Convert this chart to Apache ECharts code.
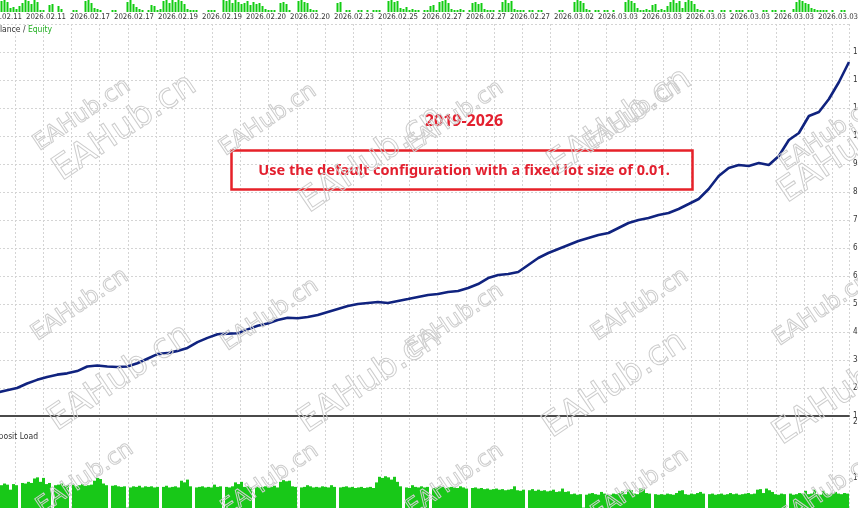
<!DOCTYPE html>
<html><head><meta charset="utf-8">
<script src="https://cdn.jsdelivr.net/npm/echarts@6/dist/echarts.min.js"></script>
<style>html,body{margin:0;padding:0;background:#fff;overflow:hidden}#c{width:858px;height:508px}</style>
</head><body><div id="c"></div>
<script>
// ---- data ----
const dateLabels = ['2026.02.11','2026.02.11','2026.02.17','2026.02.17','2026.02.19','2026.02.19','2026.02.20','2026.02.20','2026.02.23','2026.02.25','2026.02.27','2026.02.27','2026.02.27','2026.03.02','2026.03.03','2026.03.03','2026.03.03','2026.03.03','2026.03.03','2026.03.03'];

const balance = [2330,2440,2510,2580,2720,2830,2920,2990,3030,3100,
 3240,3270,3240,3225,3240,3340,3480,3620,3650,3720,
 3810,3990,4120,4230,4250,4260,4380,4490,4560,4670,
 4740,4720,4761,4822,4914,5006,5098,5160,5191,5221,
 5191,5252,5313,5375,5436,5467,5528,5559,5651,5774,
 5958,6051,6081,6143,6358,6573,6726,6849,6972,7095,
 7187,7279,7341,7494,7648,7740,7801,7894,7955,8078,
 8231,8385,8692,9091,9337,9429,9398,9491,9429,9706,
 10197,10412,10934,11057,11456,11978,12592];

const tradeBars = [11,12,10, 4,5,3,6, 9,12,11,8,12,10, 2,2,0, 7,8,0,6,3, 0,0,0, 2,2,0, 0,11,
 12,9,4,3,2, 0,0,0, 2,2, 0,0,0,10, 12,8,5,3, 2,0,2,7,6,2,3, 11,12,9,12,10,12,11,8,3,
 2,2,2,0, 0,0,2, 2,2,0,0, 12,11,12,9,12,10, 8,9,11,7,10,8,9,6,3, 2,2,2,0, 9,10,8,2,0,
 0,11,12,10,9,3,2,2,0, 0,0,0,0,0, 9,10,0, 2,2,0,0, 2,2,0, 2,0,2,2,2, 0,0,
 11,12,10,11,4, 3,5,2,3,2,2, 0,2,2, 6,7,2,10,11, 12,9,3, 2,2,3,2,0,2, 9,10,8,9,3,
 2,2,2,0,2, 10,12,9,11,3,2,2, 2,0,2,2,0,2,2,0, 0,0,0,0,2, 2,0,0,0, 10,12,11,9,3,2,
 0,2,2,0, 2,2,0,2,0,0, 0,10,12,11,9,4,2, 2,3,2,7,8,2,3,2,6, 10,12,9,11,4,10,12,11,8,3,
 2,2,0,2, 2,0,0, 2,2,0,2,0, 2,2,2,0,2,2,0,0, 0,2,2,0, 2,2,0,2,2,0,0, 3,10,12,11,9,8,4,3,
 2,2,2,2,0, 2,0,0,2,2,0,0,0,0];

const depositLoad = [8.0,8.3,8.1,7.2,8.2,8.0,3.0,8.4,8.3,8.6,
 8.4,9.2,9.4,8.6,9.3,8.2,8.4,3.5,8.0,8.1,
 8.3,7.9,8.0,3.2,8.1,7.8,8.0,8.2,7.9,8.0,
 8.1,8.8,9.3,9.1,8.3,8.0,2.8,7.9,8.0,7.8,
 7.7,7.8,4.0,7.6,7.8,7.7,7.9,7.6,7.8,7.7,
 7.8,7.6,7.7,3.3,7.7,7.9,7.6,7.7,7.8,7.6,
 8.8,8.5,9.0,7.8,3.0,7.6,7.7,7.8,7.6,7.7,
 7.6,8.1,7.7,7.8,3.6,7.7,7.6,7.8,8.5,8.2,
 8.6,7.7,7.8,7.6,2.9,7.7,7.6,7.7,7.8,7.6,
 7.7,7.9,7.6,8.6,8.9,8.7,8.8,7.8,7.7,3.1,
 7.6,7.7,8.0,7.8,7.6,7.7,7.6,7.8,7.7,7.6,
 8.0,7.7,3.4,7.6,7.7,7.8,7.6,7.7,7.5,7.6,
 7.7,7.5,7.6,7.7,7.5,8.5,9.5,9.3,9.6,9.4,
 9.0,9.5,8.6,7.8,3.0,7.6,7.5,8.0,7.7,7.6,
 7.8,7.6,7.7,3.5,7.5,7.6,7.8,7.7,7.5,7.6,
 7.7,7.6,7.5,7.8,7.6,7.4,3.2,7.5,7.6,7.4,
 7.5,7.3,7.4,7.2,7.3,7.4,7.2,7.3,7.1,7.2,
 7.3,7.8,7.1,7.0,7.2,3.0,7.1,7.3,7.0,7.2,
 7.0,7.1,6.9,7.0,7.2,6.8,6.9,7.4,6.8,6.9,
 6.4,6.5,6.3,6.4,4.0,6.3,6.5,6.6,6.4,6.3,
 6.8,6.5,6.4,6.3,6.5,6.4,6.6,6.9,6.4,7.2,
 7.1,6.5,6.4,7.4,7.3,6.6,6.5,3.5,6.4,6.3,
 6.4,6.3,6.5,6.4,6.3,6.6,7.0,7.1,6.4,6.3,
 6.5,6.4,6.6,6.8,6.5,3.3,6.4,6.5,6.3,6.4,
 6.5,6.3,6.4,6.6,6.4,6.5,6.3,6.4,6.5,6.6,
 6.4,6.5,7.2,7.3,6.6,7.4,7.1,6.8,6.4,6.3,
 6.5,6.4,3.6,6.5,6.3,6.4,6.6,6.5,7.0,6.4,
 6.5,7.2,6.4,6.3,7.0,6.5,6.4,6.6,6.8,6.5,
 6.4,6.6,6.5];

const balanceAxis = { min: 1720, max: 13760, step: 860 };
const loadAxis = { min: 0, max: 20, step: 10 };
const titleText = '2019-2026';
const noteText = 'Use the default configuration with a fixed lot size of 0.01.';
const watermark = 'EAHub.cn';

// ---- chart ----
const AX_FONT = '"Liberation Sans Narrow", "DejaVu Sans Condensed", sans-serif';
const GRID_COLOR = '#d4d4d4';
const chart = echarts.init(document.getElementById('c'), null, { renderer: 'canvas' });

const idx = arr => arr.map((_, i) => i);
const gridCols = 862 / 28.17;
const plain = v => String(Math.round(v));

const wmSmall = [[82,115],[268,120],[455,117],[632,115],[828,135],[80,305],[270,315],[455,320],[640,305],[822,310],[85,478],[270,480],[455,480],[640,485],[828,490]];
const wmLarge = [[125,128],[372,160],[620,122],[850,150],[120,378],[370,380],[615,385],[845,392]];
const wmGraphics = [];
wmSmall.forEach(p => wmGraphics.push({ type:'text', x:p[0], y:p[1], rotation: 34*Math.PI/180, z:50, silent:true,
  style:{ text: watermark, fontSize: 23, fontFamily: '"DejaVu Sans", sans-serif', fill:'rgba(0,0,0,0)', stroke:'#cdcdcd', lineWidth:1, align:'center', verticalAlign:'middle' } }));
wmLarge.forEach(p => wmGraphics.push({ type:'text', x:p[0], y:p[1], rotation: 34*Math.PI/180, z:50, silent:true,
  style:{ text: watermark, fontSize: 34, fontFamily: '"DejaVu Sans", sans-serif', fill:'rgba(0,0,0,0)', stroke:'#cdcdcd', lineWidth:1, align:'center', verticalAlign:'middle' } }));

const G = (o) => Object.assign({ containLabel: false, outerBoundsMode: 'none' }, o);

const option = {
  animation: false,
  backgroundColor: '#ffffff',
  grid: [
    G({ left: -13, right: 9, top: 24, height: 392 }),   // 0 main
    G({ left: 0, right: 0, top: 0, height: 12 }),       // 1 trade histogram
    G({ left: -13, right: 9, top: 418, height: 112 }),  // 2 bottom panel lines
    G({ left: 2, right: 0, top: 0, height: 12 }),       // 3 dates
    G({ left: 0, right: 9, top: 418, height: 112 })     // 4 deposit bars
  ],
  xAxis: [
    { gridIndex: 0, type: 'value', min: 0, max: gridCols, interval: 1,
      axisLabel: { show: false }, axisTick: { show: false },
      axisLine: { show: true, lineStyle: { color: '#4a4a4a', width: 2 } },
      splitLine: { show: true, lineStyle: { color: GRID_COLOR, type: [2, 2], width: 1 } } },
    { gridIndex: 0, type: 'category', boundaryGap: false, data: idx(balance), show: false },
    { gridIndex: 1, type: 'category', data: idx(tradeBars), show: false },
    { gridIndex: 2, type: 'value', min: 0, max: gridCols, interval: 1,
      axisLabel: { show: false }, axisTick: { show: false }, axisLine: { show: false },
      splitLine: { show: true, lineStyle: { color: GRID_COLOR, type: [2, 2], width: 1 } } },
    { gridIndex: 4, type: 'category', data: idx(depositLoad), show: false },
    { gridIndex: 3, type: 'value', position: 'bottom', min: 0, max: 856 / 44, interval: 1,
      axisLine: { show: false }, axisTick: { show: false }, splitLine: { show: false },
      axisLabel: { show: true, margin: 1, fontSize: 7.8, fontFamily: AX_FONT, color: '#333', align: 'center',
        showMaxLabel: false, hideOverlap: false, formatter: v => (dateLabels[Math.round(v)] || '') } }
  ],
  yAxis: [
    { gridIndex: 0, type: 'value', position: 'right', min: balanceAxis.min, max: balanceAxis.max, interval: balanceAxis.step,
      axisLine: { show: true, lineStyle: { color: '#222', width: 1 } }, axisTick: { show: false },
      axisLabel: { margin: 4, align: 'left', fontSize: 8, fontFamily: AX_FONT, color: '#333', showMaxLabel: false, formatter: plain },
      splitLine: { show: true, lineStyle: { color: GRID_COLOR, type: [2, 2], width: 1 } } },
    { gridIndex: 1, type: 'value', min: 0, max: 12, show: false },
    { gridIndex: 2, type: 'value', position: 'right', min: loadAxis.min, max: loadAxis.max, interval: loadAxis.step,
      axisLine: { show: true, lineStyle: { color: '#222', width: 1 } }, axisTick: { show: false },
      axisLabel: { margin: 4, align: 'left', fontSize: 8, fontFamily: AX_FONT, color: '#333', verticalAlign: 'top', formatter: plain },
      splitLine: { show: false } },
    { gridIndex: 4, type: 'value', min: loadAxis.min, max: loadAxis.max, show: false },
    { gridIndex: 3, type: 'value', min: 0, max: 1, show: false }
  ],
  series: [
    { name: 'Balance', type: 'line', xAxisIndex: 1, yAxisIndex: 0, data: balance, showSymbol: false, z: 5,
      lineStyle: { color: '#10237f', width: 2.6 } },
    { name: 'Trades', type: 'bar', xAxisIndex: 2, yAxisIndex: 1, data: tradeBars, barWidth: 2,
      itemStyle: { color: '#12cc12' } },
    { name: 'Deposit Load', type: 'bar', xAxisIndex: 4, yAxisIndex: 3, data: depositLoad,
      barWidth: '100%', barCategoryGap: '0%', itemStyle: { color: '#18c818' } }
  ],
  graphic: [
    { type: 'text', left: -10, top: 25, z: 20, style: { text: '{a|Balance / }{b|Equity}', rich: {
        a: { fontSize: 8.5, fontFamily: AX_FONT, fill: '#333' }, b: { fontSize: 8.5, fontFamily: AX_FONT, fill: '#22b022' } } } },
    { type: 'text', left: -12, top: 432, z: 20, style: { text: 'Deposit Load', fontSize: 8.5, fontFamily: AX_FONT, fill: '#333' } },
    { type: 'text', x: 464, y: 121, z: 30, style: { text: titleText, fontSize: 16, fontWeight: 'bold', fontFamily: '"Noto Sans", sans-serif', fill: '#e3202f', align: 'center', verticalAlign: 'middle' } },
    { type: 'rect', z: 30, shape: { x: 231.5, y: 150.5, width: 461, height: 39 }, style: { fill: 'rgba(0,0,0,0)', stroke: '#e62129', lineWidth: 2.5 } },
    { type: 'text', x: 464, y: 171, z: 30, style: { text: noteText, fontSize: 14.5, fontWeight: 'bold', fontFamily: '"Noto Sans", sans-serif', fill: '#e3202f', align: 'center', verticalAlign: 'middle' } }
  ].concat(wmGraphics)
};
chart.setOption(option);
</script></body></html>
